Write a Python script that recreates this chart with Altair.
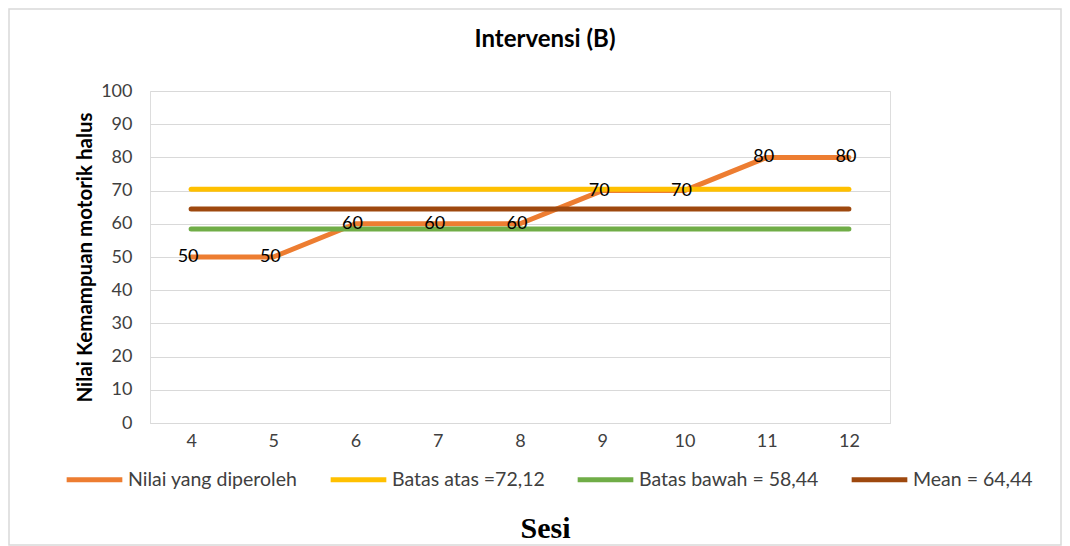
import altair as alt
import pandas as pd

sessions = [4, 5, 6, 7, 8, 9, 10, 11, 12]
nilai = [50, 50, 60, 60, 60, 70, 70, 80, 80]
batas_atas = [70.44, 70.44, 70.44, 70.44, 70.44, 70.44, 70.44, 70.44, 70.44]
batas_bawah = [58.44, 58.44, 58.44, 58.44, 58.44, 58.44, 58.44, 58.44, 58.44]
mean_vals = [64.44, 64.44, 64.44, 64.44, 64.44, 64.44, 64.44, 64.44, 64.44]
y_ticks = [0, 10, 20, 30, 40, 50, 60, 70, 80, 90, 100]

series_names = ["Nilai yang diperoleh", "Batas atas =72,12", "Batas bawah = 58,44", "Mean = 64,44"]
series_colors = ["#ED7D31", "#FFC000", "#70AD47", "#9E480E"]

rows = []
for k, (name, vals) in enumerate(zip(series_names, [nilai, batas_atas, batas_bawah, mean_vals])):
    for s, v in zip(sessions, vals):
        rows.append({"Sesi": str(s), "Nilai": v, "Seri": name, "order": k})
df = pd.DataFrame(rows)
labels_df = pd.DataFrame({"Sesi": [str(s) for s in sessions], "Nilai": nilai, "Label": [str(v) for v in nilai]})

FONT = "Lato"
sess_sort = [str(s) for s in sessions]

x_enc = alt.X("Sesi:O", sort=sess_sort,
              axis=alt.Axis(title="Sesi", labelAngle=0, labelFontSize=18, labelFont=FONT,
                            labelColor="#404040", labelPadding=9, ticks=False,
                            domainColor="#d9d9d9", grid=False,
                            titleFont="Liberation Serif", titleFontSize=30, titleFontWeight="bold",
                            titleColor="#000000", titleX=395, titleY=114, titleBaseline="alphabetic",
                            titleAnchor="start", titleAlign="center"))
y_enc = alt.Y("Nilai:Q", scale=alt.Scale(domain=[0, 100], nice=False),
              axis=alt.Axis(title="Nilai  Kemampuan motorik halus", values=y_ticks, tickCount=11,
                            labelOverlap=False,
                            labelFontSize=18, labelFont=FONT, labelColor="#404040", labelPadding=18,
                            ticks=False, domain=False, gridColor="#d9d9d9", gridWidth=1,
                            titleFont=FONT, titleFontSize=20.5, titleFontWeight="bold", titleColor="#000000",
                            titleX=-65, titleY=166, titleAngle=-90, titleAlign="center",
                            titleBaseline="middle", titleAnchor="start"))

# outer chart frame (decoration only)
frame = alt.Chart(pd.DataFrame({"f": [0]})).mark_rect(
    fill=None, stroke="#d9d9d9", strokeWidth=1.5
).encode(x=alt.value(-141), x2=alt.value(911), y=alt.value(-82), y2=alt.value(454))

lines = alt.Chart(df).mark_line(strokeWidth=5, strokeCap="round", strokeJoin="round").encode(
    x=x_enc,
    y=y_enc,
    color=alt.Color("Seri:N", scale=alt.Scale(domain=series_names, range=series_colors),
                    legend=alt.Legend(title=None, orient="none", legendX=-86, legendY=358,
                                      direction="horizontal", symbolType="stroke",
                                      symbolStrokeWidth=5, symbolSize=3100,
                                      labelFontSize=19.5, labelFont=FONT, labelColor="#404040",
                                      labelOffset=3, columnPadding=22, labelLimit=400)),
    order=alt.Order("order:Q"),
)

texts = alt.Chart(labels_df).mark_text(fontSize=18, font=FONT, color="#000000", dx=-3, baseline="middle").encode(
    x=x_enc,
    y=y_enc,
    text="Label:N",
)

chart = alt.layer(lines, texts, frame).properties(
    width=740, height=332,
    title=alt.TitleParams("Intervensi (B)", font=FONT, fontSize=24, fontWeight="bold",
                          color="#000000", anchor="middle", dx=25, offset=-44),
    autosize=alt.AutoSizeParams(type="none"),
    padding={"left": 142, "top": 83, "right": 172, "bottom": 123},
).configure_view(stroke=None).configure(background="white")

chart.save("out.html", embed_options={"renderer": "svg", "actions": False})
